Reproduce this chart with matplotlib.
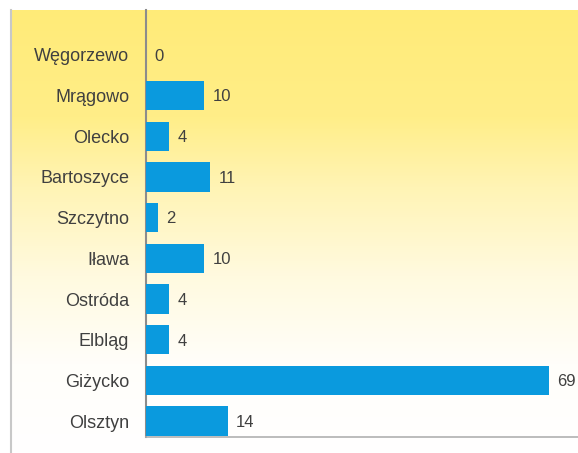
import numpy as np
import matplotlib.pyplot as plt
from matplotlib.colors import LinearSegmentedColormap
from matplotlib.lines import Line2D

plt.rcParams['font.family'] = ['Liberation Sans', 'DejaVu Sans']

# dane (od dołu do góry)
miasta = ['Olsztyn', 'Giżycko', 'Elbląg', 'Ostróda', 'Iława',
          'Szczytno', 'Bartoszyce', 'Olecko', 'Mrągowo', 'Węgorzewo']
wartosci = [14, 69, 4, 4, 10, 2, 11, 4, 10, 0]

W, H = 578, 453
fig = plt.figure(figsize=(W / 100, H / 100), dpi=100)
fig.patch.set_facecolor('white')

# tło z gradientem (żółty u góry -> biały u dołu)
bg = fig.add_axes([11 / W, 0, 1 - 11 / W, (H - 10) / H])
cmap = LinearSegmentedColormap.from_list(
    'tlo', [(0.0, '#ffffff'), (0.2, '#fffefa'), (0.4, '#fffadf'),
            (0.6, '#fff4b5'), (0.76, '#ffee88'), (1.0, '#ffeb78')])
grad = np.linspace(0, 1, 256).reshape(-1, 1)
bg.imshow(grad, aspect='auto', cmap=cmap, origin='lower',
          extent=[0, 1, 0, 1])
bg.set_axis_off()

# ramka po lewej
fig.add_artist(Line2D([11 / W, 11 / W], [0, (H - 10) / H],
                      color='#c8c8c8', lw=1.5))

ax = fig.add_axes([146 / W, (H - 437) / H, (W - 146) / W, (437 - 10) / H])
ax.set_facecolor('none')

y = np.arange(len(miasta))
ax.barh(y, wartosci, height=0.72, color='#0a9ade', zorder=3)

for yi, v in zip(y, wartosci):
    ax.annotate(str(v), (v, yi), xytext=(6, -1), textcoords='offset points',
                ha='left', va='center', fontsize=12, color='#404040')

ax.set_xlim(0, 74)
ax.set_ylim(-0.39, 10.1)
ax.set_yticks(y)
ax.set_yticklabels(miasta, fontsize=13, color='#404040')
ax.tick_params(axis='y', length=0, pad=12)
ax.set_xticks([])

for s in ['top', 'right']:
    ax.spines[s].set_visible(False)
ax.spines['left'].set_color('#8c8c8c')
ax.spines['left'].set_linewidth(1.5)
ax.spines['bottom'].set_color('#b0b0b0')
ax.spines['bottom'].set_linewidth(1.2)

fig.savefig('out.png', dpi=100)
